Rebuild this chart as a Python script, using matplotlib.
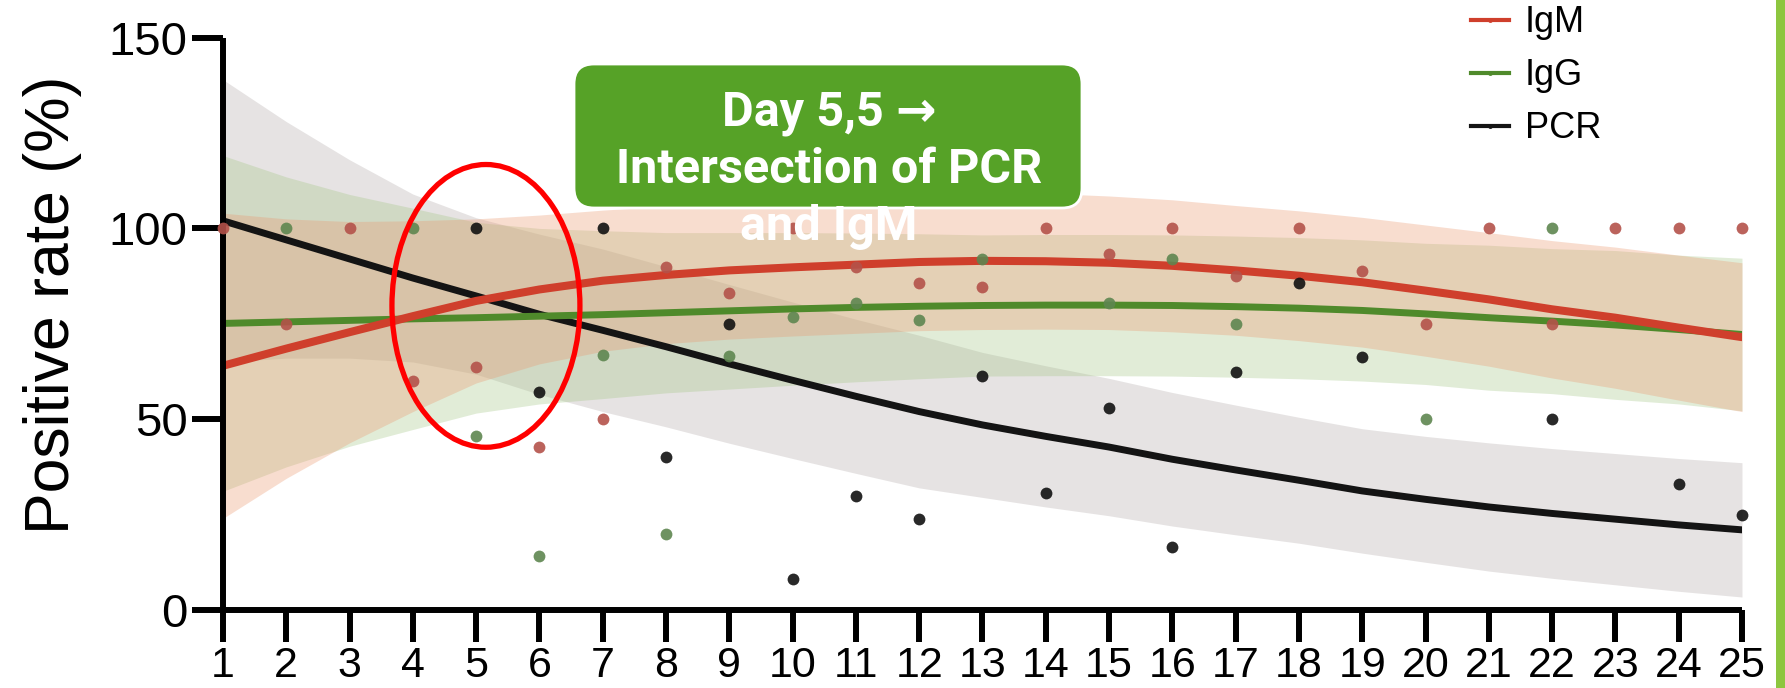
import numpy as np
import matplotlib.pyplot as plt
from matplotlib.patches import Ellipse, FancyBboxPatch, Rectangle
from matplotlib.lines import Line2D

nan = np.nan
days = np.arange(1, 26)

# single observations per day (nan = not visible in the figure)
igm_pts = [100, 75, 100, 60, 63.6, 42.7, 50, 90, 83, 100, 90, 85.6, 84.6, 100, 93.4,
           100, 87.5, 100, 88.8, 75, 100, 75, 100, 100, 100]
igg_pts = [nan, 100, nan, 100, 45.5, 14.2, 66.7, 19.8, 66.6, 76.9, 80.4, 76, 92, nan, 80.4,
           92, 75, nan, nan, 50, nan, 100, nan, nan, nan]
pcr_pts = [nan, nan, nan, nan, 100, 57, 100, 40, 75, 8, 29.8, 23.8, 61.3, 30.7, 53,
           16.6, 62.5, 85.7, 66.4, nan, nan, 50, nan, 33, 25]

# fitted curves, read per day
igm_fit = [64, 68.5, 72.8, 77, 81, 84, 86.3, 87.8, 89, 89.8, 90.5, 91.2, 91.5, 91.4, 91,
           90.2, 89, 87.6, 85.9, 83.7, 81.4, 78.8, 76.6, 74, 71.5]
igg_fit = [75.1, 75.5, 75.9, 76.3, 76.6, 77, 77.4, 77.9, 78.4, 78.9, 79.3, 79.6, 79.8, 79.9,
           79.9, 79.8, 79.5, 79.1, 78.5, 77.6, 76.6, 75.7, 74.7, 73.5, 72.2]
pcr_fit = [102, 97, 92, 87, 82.3, 77.5, 73.3, 69, 64.5, 60.2, 56, 52, 48.5, 45.5, 42.7,
           39.5, 36.7, 34, 31.2, 29, 27, 25.3, 23.8, 22.3, 21]

# half width of the confidence bands
igm_ci = [40, 34, 29, 25, 21.5, 19.5, 18.5, 18, 18, 18, 18, 18, 18, 17.8, 17.5,
          17.3, 17, 17, 17, 17.2, 17.5, 18, 18.5, 19, 19.5]
igg_ci = [44, 38, 33, 29, 25, 23, 22, 21, 20.5, 20, 19.5, 19, 18.5, 18.5, 18.5,
          18.5, 18.5, 18.5, 18.5, 18.5, 19, 19, 19.5, 19.5, 20]
pcr_ci = [37, 31, 26, 22, 20.5, 21, 21.3, 21, 20.8, 20.5, 20.2, 20, 19, 18.5, 18,
          17.5, 17, 16.5, 16.3, 16.5, 16.8, 17, 17.2, 17.4, 17.6]

series = ['IgM', 'IgG', 'PCR']
line_col = {'IgM': '#cf3f2c', 'IgG': '#4f8a2b', 'PCR': '#141414'}
dot_col = {'IgM': '#b4524a', 'IgG': '#5e8650', 'PCR': '#111111'}
band_col = {'IgM': ('#eb9870', 0.33), 'IgG': ('#a2c684', 0.32), 'PCR': ('#c8c2c2', 0.45)}
lw = {'IgM': 5.8, 'IgG': 5.0, 'PCR': 5.0}
pts = {'IgM': igm_pts, 'IgG': igg_pts, 'PCR': pcr_pts}
fit = {'IgM': igm_fit, 'IgG': igg_fit, 'PCR': pcr_fit}
ci = {'IgM': igm_ci, 'IgG': igg_ci, 'PCR': pcr_ci}

note_lines = ['Day 5,5 \u2192', 'Intersection of PCR', 'and IgM']

fig = plt.figure(figsize=(17.85, 6.88), dpi=100)
ax = fig.add_axes([0.1249, 0.1134, 0.851, 0.8319])

for name in ['PCR', 'IgG', 'IgM']:
    f = np.array(fit[name])
    c = np.array(ci[name])
    col, a = band_col[name]
    ax.fill_between(days, f - c, f + c, color=col, alpha=a, lw=0, zorder=1)

for name in ['PCR', 'IgG', 'IgM']:
    ax.plot(days, fit[name], color=line_col[name], lw=lw[name], zorder=2,
            solid_capstyle='round')

for name in ['PCR', 'IgG', 'IgM']:
    ax.plot(days, pts[name], 'o', color=dot_col[name], ms=8.5, mew=0, alpha=0.9,
            zorder=3, clip_on=False)

ax.set_xlim(1, 25)
ax.set_ylim(0, 150)
ax.set_xticks(days)
ax.set_yticks([0, 50, 100, 150])
for s in ['top', 'right']:
    ax.spines[s].set_visible(False)
for s in ['left', 'bottom']:
    ax.spines[s].set_linewidth(4.3)
    ax.spines[s].set_capstyle('butt')
ax.tick_params(axis='y', length=22, width=4.3, pad=3.5, labelsize=34)
ax.tick_params(axis='x', length=23, width=4.3, pad=3, labelsize=31)
for t in ax.get_xticklabels() + ax.get_yticklabels():
    t.set_fontfamily('Liberation Sans')

ax.set_ylabel('Positive rate (%)', fontsize=45, family='Liberation Sans')
ax.yaxis.set_label_coords(-0.093, 0.534)

# legend
handles = [Line2D([], [], color=line_col[n], lw=3, marker='o', ms=3.5, mew=0)
           for n in series]
leg = fig.legend(handles, series, loc='upper left', bbox_to_anchor=(0.823, 0.995),
                 frameon=False, prop={'family': 'Liberation Sans', 'size': 26},
                 handlelength=1.05, handletextpad=0.45, labelspacing=0.5,
                 borderpad=0.05, borderaxespad=0)

# intersection marker
ax.add_patch(Ellipse((5.155, 79.7), 2.97, 74.1, fill=False, ec='#ff0000', lw=3.8,
                     zorder=5, clip_on=False))

# callout box
box = FancyBboxPatch((5.74, 4.80), 5.08, 1.44, boxstyle='round,pad=0,rounding_size=0.2',
                     transform=fig.dpi_scale_trans, fc='#56a227', ec='white', lw=2,
                     zorder=4)
fig.add_artist(box)
for txt, y in zip(note_lines, [0.8183, 0.734, 0.651]):
    fig.text(0.4645, y, txt, ha='center', va='baseline', color='white', fontsize=35,
             fontweight='semibold', family=['Roboto', 'DejaVu Sans'], zorder=6)

# slide edge bar
fig.add_artist(Rectangle((1776 / 1785, 0), 9 / 1785, 1, transform=fig.transFigure,
                         color='#8dc63f', lw=0, zorder=7))

fig.savefig('out.png', dpi=100)
